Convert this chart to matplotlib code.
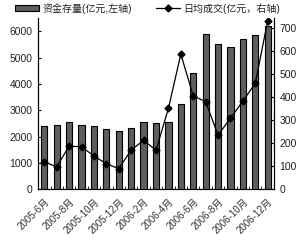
import matplotlib
matplotlib.use('Agg')
import matplotlib.pyplot as plt

plt.rcParams['font.family'] = ['Liberation Sans', 'Noto Sans CJK SC']
plt.rcParams['text.color'] = '#222222'

# 月份
months = ['2005-6月', '2005-7月', '2005-8月', '2005-9月', '2005-10月', '2005-11月',
          '2005-12月', '2006-1月', '2006-2月', '2006-3月', '2006-4月', '2006-5月',
          '2006-6月', '2006-7月', '2006-8月', '2006-9月', '2006-10月', '2006-11月',
          '2006-12月']
# 资金存量 (亿元, 左轴)
stock = [2400, 2460, 2540, 2435, 2400, 2295, 2210, 2335, 2540, 2500,
         2540, 3230, 4430, 5910, 5500, 5390, 5720, 5870, 6190]
# 日均成交 (亿元, 右轴)
daily = [119, 98, 188, 185, 145, 111, 90, 171, 213, 170,
         352, 588, 407, 381, 236, 309, 384, 461, 733]

x = list(range(len(months)))

fig = plt.figure(figsize=(3.0, 2.41), dpi=100)
ax = fig.add_axes([0.127, 0.2145, 0.786, 0.7105])
ax2 = ax.twinx()

bars = ax.bar(x, stock, width=0.5, color='#5e5e5e', edgecolor='black', linewidth=0.8,
              label='资金存量(亿元,左轴)')
line, = ax2.plot(x, daily, color='black', linewidth=0.9, marker='D', markersize=3.5,
                 label='日均成交(亿元，右轴)')

ax.set_xlim(-0.5, len(months) - 0.5)
ax.set_ylim(0, 6500)
ax2.set_ylim(0, 745)
ax.set_yticks(range(0, 7000, 1000))
ax2.set_yticks(range(0, 800, 100))

ax.set_xticks(x[::2])
ax.set_xticklabels(months[::2], rotation=45, ha='right', rotation_mode='anchor', fontsize=7)
ax.tick_params(axis='x', length=0, pad=5, labelcolor='#333333')
ax.set_xticks([i + 0.5 for i in x[:-1]], minor=True)
ax.tick_params(axis='x', which='minor', direction='in', length=2)
ax.tick_params(axis='y', direction='in', length=2, labelsize=7.5, pad=4, labelcolor='#222222')
ax2.tick_params(axis='y', direction='in', length=2, labelsize=7.5, pad=4, labelcolor='#222222')

for a in (ax, ax2):
    a.spines['top'].set_visible(False)
    for s in ('left', 'right', 'bottom'):
        a.spines[s].set_linewidth(0.8)

fig.legend([bars], [bars.get_label()], frameon=False, loc='upper left',
           bbox_to_anchor=(0.02, 1.025), fontsize=7.2, handlelength=2.4,
           handleheight=0.6, handletextpad=0.4)
fig.legend([line], [line.get_label()], frameon=False, loc='upper left',
           bbox_to_anchor=(0.49, 1.025), fontsize=7.2, handlelength=2.4,
           handletextpad=0.3)

fig.savefig('out.png', dpi=100)
